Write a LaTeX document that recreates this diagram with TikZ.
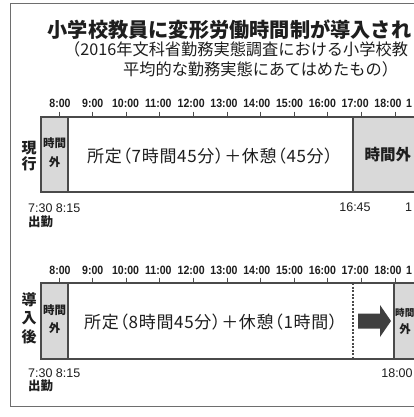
\documentclass[tikz,border=0pt]{standalone}
\usepackage{fontspec}
\setmainfont{Liberation Sans}
\newfontfamily\jp{Noto Sans CJK JP}
\newfontfamily\jpp[RawFeature=+palt, LetterSpace=4]{Noto Sans CJK JP}
\definecolor{framec}{HTML}{6E6E6E}
\definecolor{linec}{HTML}{4A4A4A}
\definecolor{graybg}{HTML}{D9D9D9}
\definecolor{arrowc}{HTML}{3F3F3F}
\definecolor{txt}{HTML}{1E1E1E}
\newcommand{\hrs}[1]{\scalebox{0.88}[1]{#1}}
\tikzset{
  boxline/.style={draw=linec, line width=1.2bp},
  bottomline/.style={draw=linec, line width=1.8bp},
  tick/.style={draw=linec, line width=0.9bp},
  hourlbl/.style={font=\bfseries\fontsize{12bp}{13bp}\selectfont, text=txt, inner sep=0pt},
  timelbl/.style={font=\fontsize{12.5bp}{13bp}\selectfont, text=txt, inner sep=0pt},
  rowlbl/.style={font=\jp\bfseries\fontsize{15bp}{18bp}\selectfont, text=txt, inner sep=0pt, align=center},
  striplbl/.style={font=\jp\bfseries\fontsize{11.5bp}{18bp}\selectfont, text=txt, inner sep=0pt},
  mainlbl/.style={font=\jpp\fontsize{17bp}{18bp}\selectfont, text=txt, inner sep=0pt},
}
\begin{document}
\begin{tikzpicture}[x=1bp,y=-1bp]
\useasboundingbox (0,0) rectangle (414,417);
\clip (0,0) rectangle (414,417);
\fill[white] (0,0) rectangle (414,417);
% outer frame
\draw[framec, line width=1.5bp] (10.5,3.5) rectangle (520,406.5);
% titles
\node[font=\jp\bfseries\fontsize{20.2bp}{22bp}\selectfont, text=txt, anchor=west, inner sep=0pt] (title) at (47.5,30) {小学校教員に変形労働時間制が導入され};
\node[font=\jp\fontsize{16.2bp}{17bp}\selectfont, text=txt, anchor=west, inner sep=0pt] (sub1) at (64,49.5) {（2016年文科省勤務実態調査における小学校教};
\node[font=\jp\fontsize{16.2bp}{17bp}\selectfont, text=txt, anchor=west, inner sep=0pt] (sub2) at (123,69.5) {平均的な勤務実態にあてはめたもの）};
% ---------------- row 1 ----------------
\fill[graybg] (41,117) rectangle (68,192);
\fill[graybg] (353,117) rectangle (430,192);
\draw[boxline] (430,117) -- (41,117) -- (41,192);
\draw[bottomline] (40.4,192) -- (430,192);
\draw[boxline] (68,117) -- (68,192);
\draw[boxline] (353,117) -- (353,192);
\foreach \k in {0,...,10} {
  \draw[tick] ({59+33.6*\k},111.5) -- ({59+33.6*\k},117);
}
\foreach \k/\lbl in {0/8:00,1/9:00,2/10:00,3/11:00,4/12:00,5/13:00,6/14:00,7/15:00,8/16:00,9/17:00,10/18:00} {
  \node[hourlbl] (ha\k) at ({60+32.8*\k},103) {\hrs{\lbl}};
}
\node[hourlbl, anchor=west] (ha11) at (406,103) {\hrs{1}};
\node[rowlbl] (cur) at (29,156) {現\\[-2bp]行};
\node[striplbl] (s1a) at (54.5,143) {時間};
\node[striplbl] (s1b) at (54.5,162) {外};
\node[mainlbl, anchor=west] (m1) at (87,156) {所定（7時間45分）＋休憩（45分）};
\node[font=\jp\bfseries\fontsize{15.5bp}{17bp}\selectfont, text=txt, anchor=west, inner sep=0pt] (o1) at (364.5,155) {時間外};
\node[timelbl, anchor=west] (t1a) at (28,208) {7:30 8:15};
\node[font=\jp\bfseries\fontsize{12.5bp}{13bp}\selectfont, text=txt, anchor=west, inner sep=0pt] (t1b) at (28,222) {出勤};
\node[timelbl] (t1c) at (355,207) {16:45};
\node[timelbl, anchor=west] (t1d) at (405,207) {1};
% ---------------- row 2 ----------------
\fill[graybg] (41,283) rectangle (68,359);
\fill[graybg] (394,283) rectangle (430,359);
\draw[boxline] (430,283) -- (41,283) -- (41,359);
\draw[bottomline] (40.4,359) -- (430,359);
\draw[boxline] (68,283) -- (68,359);
\draw[boxline] (394,283) -- (394,359);
\draw[draw=linec, line width=1.2bp, dash pattern=on 2bp off 1.5bp] (353,283) -- (353,359);
\foreach \k in {0,...,10} {
  \draw[tick] ({59+33.6*\k},277.5) -- ({59+33.6*\k},283);
}
\foreach \k/\lbl in {0/8:00,1/9:00,2/10:00,3/11:00,4/12:00,5/13:00,6/14:00,7/15:00,8/16:00,9/17:00,10/18:00} {
  \node[hourlbl] (hb\k) at ({60+32.8*\k},270) {\hrs{\lbl}};
}
\node[hourlbl, anchor=west] (hb11) at (406,270) {\hrs{1}};
\node[rowlbl] (new) at (29,318) {導\\[0.5bp]入\\[0.5bp]後};
\node[striplbl] (s2a) at (54.5,310) {時間};
\node[striplbl] (s2b) at (54.5,328) {外};
\node[mainlbl, anchor=west] (m2) at (84,322) {所定（8時間45分）＋休憩（1時間）};
\fill[arrowc] (358,313.5) -- (380,313.5) -- (380,305) -- (391,321) -- (380,337) -- (380,328.5) -- (358,328.5) -- cycle;
\node[font=\jp\bfseries\fontsize{9.6bp}{16bp}\selectfont, text=txt, anchor=west, inner sep=0pt] (o2a) at (395,313) {時間};
\node[font=\jp\bfseries\fontsize{11.5bp}{16bp}\selectfont, text=txt, inner sep=0pt] (o2b) at (405,329) {外};
\node[timelbl, anchor=west] (t2a) at (28,373) {7:30 8:15};
\node[font=\jp\bfseries\fontsize{12.5bp}{13bp}\selectfont, text=txt, anchor=west, inner sep=0pt] (t2b) at (28,386) {出勤};
\node[timelbl] (t2c) at (397,373) {18:00};
\end{tikzpicture}
\end{document}
